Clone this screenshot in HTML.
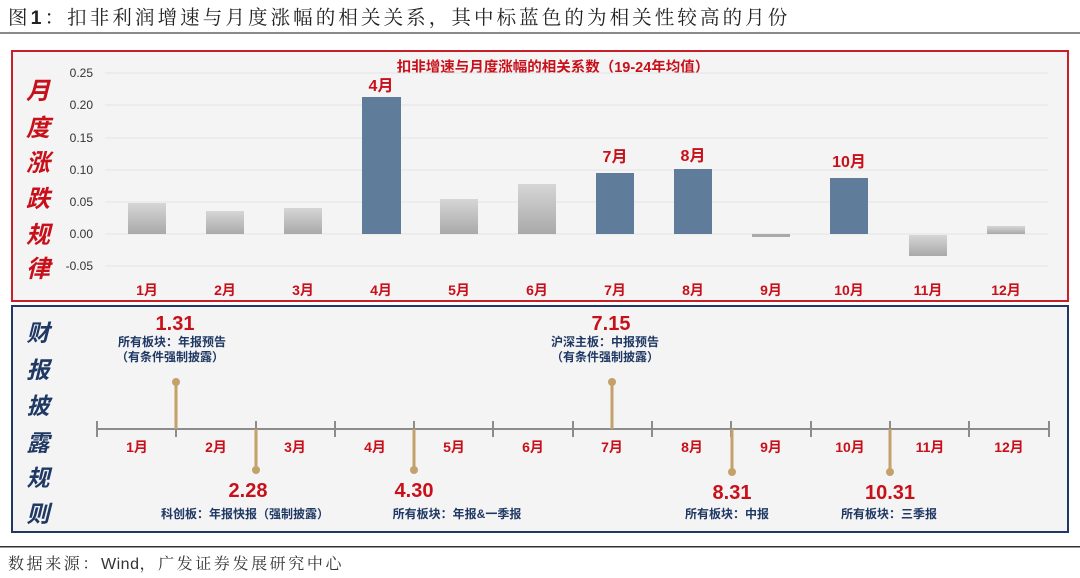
<!DOCTYPE html>
<html><head><meta charset="utf-8">
<style>
html,body{margin:0;padding:0;background:#fff;}
svg{display:block;}
.t{font-family:"Liberation Sans","Noto Sans CJK SC",sans-serif;}
.s{font-family:"Liberation Serif","Noto Serif CJK SC",serif;}
</style></head><body>
<svg width="1080" height="578" viewBox="0 0 1080 578" xmlns="http://www.w3.org/2000/svg">
<defs>
<linearGradient id="g" x1="0" y1="0" x2="0" y2="1">
<stop offset="0" stop-color="#d6d6d6"/><stop offset="1" stop-color="#a9a9a9"/>
</linearGradient>
</defs>
<!-- title -->
<text class="s" x="8" y="24" font-size="19.5" letter-spacing="3.1" fill="#222">图<tspan class="t" font-weight="bold">1</tspan>：扣非利润增速与月度涨幅的相关关系，其中标蓝色的为相关性较高的月份</text>
<rect x="0" y="32" width="1080" height="2" fill="#8a8a8a"/>

<!-- top red box -->
<rect x="12" y="51" width="1056" height="250" fill="#f4f4f4" stroke="#c8202a" stroke-width="2"/>
<g class="t" font-size="24" font-weight="bold" font-style="italic" fill="#c8101a" text-anchor="middle">
<text x="38" y="99">月</text><text x="38" y="136">度</text><text x="38" y="171">涨</text>
<text x="38" y="207">跌</text><text x="38" y="243">规</text><text x="38" y="277">律</text>
</g>
<text class="t" x="553" y="72" font-size="14.5" font-weight="bold" fill="#c8101a" text-anchor="middle">扣非增速与月度涨幅的相关系数（19-24年均值）</text>
<g stroke="#e3e3e3" stroke-width="1">
<line x1="105" y1="73" x2="1048" y2="73"/><line x1="105" y1="105" x2="1048" y2="105"/>
<line x1="105" y1="138" x2="1048" y2="138"/><line x1="105" y1="170" x2="1048" y2="170"/>
<line x1="105" y1="202" x2="1048" y2="202"/><line x1="105" y1="234" x2="1048" y2="234"/>
<line x1="105" y1="266" x2="1048" y2="266"/>
</g>
<g class="t" font-size="12" fill="#333" text-anchor="end">
<text x="93" y="77">0.25</text><text x="93" y="109">0.20</text><text x="93" y="142">0.15</text>
<text x="93" y="174">0.10</text><text x="93" y="206">0.05</text><text x="93" y="238">0.00</text>
<text x="93" y="270">-0.05</text>
</g>
<!-- bars -->
<rect x="128" y="203" width="38" height="31" fill="url(#g)"/>
<rect x="206" y="211" width="38" height="23" fill="url(#g)"/>
<rect x="284" y="208" width="38" height="26" fill="url(#g)"/>
<rect x="362" y="97" width="39" height="137" fill="#5f7d9b"/>
<rect x="440" y="199" width="38" height="35" fill="url(#g)"/>
<rect x="518" y="184" width="38" height="50" fill="url(#g)"/>
<rect x="596" y="173" width="38" height="61" fill="#5f7d9b"/>
<rect x="674" y="169" width="38" height="65" fill="#5f7d9b"/>
<rect x="752" y="234" width="38" height="3" fill="#a9a9a9"/>
<rect x="830" y="178" width="38" height="56" fill="#5f7d9b"/>
<rect x="909" y="235" width="38" height="21" fill="url(#g)"/>
<rect x="987" y="226" width="38" height="8" fill="url(#g)"/>
<g class="t" font-size="16" font-weight="bold" fill="#c8101a" text-anchor="middle">
<text x="381" y="91">4月</text><text x="615" y="162">7月</text><text x="693" y="161">8月</text><text x="849" y="167">10月</text>
</g>
<g class="t" font-size="14" font-weight="bold" fill="#c8101a" text-anchor="middle">
<text x="147" y="295">1月</text><text x="225" y="295">2月</text><text x="303" y="295">3月</text>
<text x="381" y="295">4月</text><text x="459" y="295">5月</text><text x="537" y="295">6月</text>
<text x="615" y="295">7月</text><text x="693" y="295">8月</text><text x="771" y="295">9月</text>
<text x="849" y="295">10月</text><text x="928" y="295">11月</text><text x="1006" y="295">12月</text>
</g>

<!-- bottom blue box -->
<rect x="12" y="306" width="1056" height="226" fill="#f4f4f4" stroke="#1f3864" stroke-width="2"/>
<g class="t" font-size="23" font-weight="bold" font-style="italic" fill="#1f3864" text-anchor="middle">
<text x="38" y="341">财</text><text x="38" y="378">报</text><text x="38" y="414">披</text>
<text x="38" y="451">露</text><text x="38" y="486">规</text><text x="38" y="522">则</text>
</g>
<!-- timeline -->
<line x1="97" y1="429" x2="1049" y2="429" stroke="#8c8c8c" stroke-width="2"/>
<g stroke="#8c8c8c" stroke-width="2">
<line x1="97" y1="421" x2="97" y2="437"/><line x1="176" y1="421" x2="176" y2="437"/>
<line x1="256" y1="421" x2="256" y2="437"/><line x1="335" y1="421" x2="335" y2="437"/>
<line x1="414" y1="421" x2="414" y2="437"/><line x1="493" y1="421" x2="493" y2="437"/>
<line x1="573" y1="421" x2="573" y2="437"/><line x1="652" y1="421" x2="652" y2="437"/>
<line x1="731" y1="421" x2="731" y2="437"/><line x1="811" y1="421" x2="811" y2="437"/>
<line x1="890" y1="421" x2="890" y2="437"/><line x1="969" y1="421" x2="969" y2="437"/>
<line x1="1049" y1="421" x2="1049" y2="437"/>
</g>
<g class="t" font-size="14" font-weight="bold" fill="#c8101a" text-anchor="middle">
<text x="137" y="452">1月</text><text x="216" y="452">2月</text><text x="295" y="452">3月</text>
<text x="375" y="452">4月</text><text x="454" y="452">5月</text><text x="533" y="452">6月</text>
<text x="612" y="452">7月</text><text x="692" y="452">8月</text><text x="771" y="452">9月</text>
<text x="850" y="452">10月</text><text x="930" y="452">11月</text><text x="1009" y="452">12月</text>
</g>
<!-- stems -->
<g stroke="#c4a06a" stroke-width="3">
<line x1="176" y1="382" x2="176" y2="429"/>
<line x1="256" y1="429" x2="256" y2="470"/>
<line x1="414" y1="429" x2="414" y2="470"/>
<line x1="612" y1="382" x2="612" y2="429"/>
<line x1="732" y1="429" x2="732" y2="472"/>
<line x1="890" y1="429" x2="890" y2="472"/>
</g>
<g fill="#c4a06a">
<circle cx="176" cy="382" r="4"/><circle cx="256" cy="470" r="4"/><circle cx="414" cy="470" r="4"/>
<circle cx="612" cy="382" r="4"/><circle cx="732" cy="472" r="4"/><circle cx="890" cy="472" r="4"/>
</g>
<g class="t" font-size="20" font-weight="bold" fill="#c8101a" text-anchor="middle">
<text x="175" y="330">1.31</text><text x="611" y="330">7.15</text>
<text x="248" y="497">2.28</text><text x="414" y="497">4.30</text>
<text x="732" y="499">8.31</text><text x="890" y="499">10.31</text>
</g>
<g class="t" font-size="12" font-weight="bold" fill="#1f3864" text-anchor="middle">
<text x="172" y="346">所有板块：年报预告</text><text x="170" y="361">（有条件强制披露）</text>
<text x="605" y="346">沪深主板：中报预告</text><text x="605" y="361">（有条件强制披露）</text>
<text x="245" y="518">科创板：年报快报（强制披露）</text>
<text x="457" y="518">所有板块：年报&amp;一季报</text>
<text x="727" y="518">所有板块：中报</text>
<text x="889" y="518">所有板块：三季报</text>
</g>

<rect x="0" y="546" width="1080" height="1.5" fill="#333"/>
<text class="s" x="8" y="569" font-size="16" letter-spacing="2.6" fill="#333">数据来源：<tspan class="t" letter-spacing="0.5">Wind</tspan>，广发证券发展研究中心</text>
</svg>
</body></html>
